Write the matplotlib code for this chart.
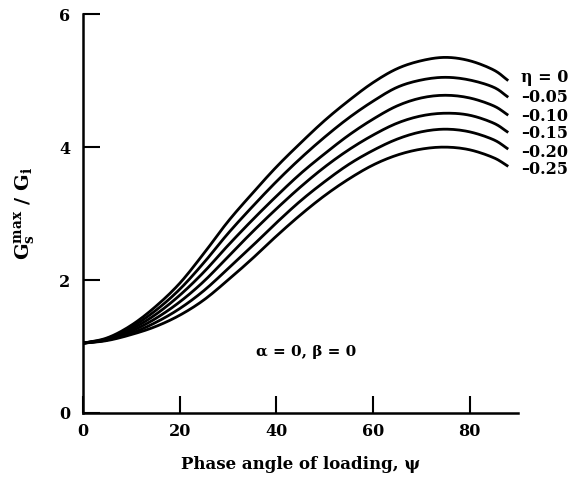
import matplotlib
matplotlib.use("Agg")
import matplotlib.pyplot as plt
import numpy as np

psi = [0, 5, 10, 15, 20, 25, 30, 35, 40, 45, 50, 55, 60, 65, 70, 75, 80, 85, 88]
g_eta_0 = [1.05, 1.13, 1.32, 1.60, 1.95, 2.40, 2.88, 3.30, 3.70, 4.06, 4.40, 4.70, 4.97, 5.18, 5.30, 5.35, 5.30, 5.16, 5.00]
g_eta_005 = [1.05, 1.12, 1.29, 1.54, 1.86, 2.26, 2.70, 3.10, 3.48, 3.83, 4.15, 4.44, 4.69, 4.90, 5.01, 5.05, 5.01, 4.90, 4.75]
g_eta_010 = [1.05, 1.11, 1.26, 1.48, 1.77, 2.12, 2.52, 2.90, 3.26, 3.60, 3.90, 4.18, 4.42, 4.62, 4.74, 4.78, 4.74, 4.62, 4.48]
g_eta_015 = [1.05, 1.10, 1.23, 1.42, 1.67, 1.98, 2.35, 2.72, 3.07, 3.40, 3.70, 3.96, 4.18, 4.36, 4.47, 4.51, 4.48, 4.36, 4.22]
g_eta_020 = [1.05, 1.10, 1.20, 1.36, 1.57, 1.84, 2.17, 2.51, 2.86, 3.19, 3.48, 3.74, 3.95, 4.12, 4.23, 4.27, 4.23, 4.11, 3.97]
g_eta_025 = [1.05, 1.09, 1.18, 1.30, 1.47, 1.70, 2.00, 2.32, 2.66, 2.98, 3.27, 3.52, 3.73, 3.88, 3.97, 4.00, 3.96, 3.84, 3.71]
series = [g_eta_0, g_eta_005, g_eta_010, g_eta_015, g_eta_020, g_eta_025]
labels = ["η = 0", "–0.05", "–0.10", "–0.15", "–0.20", "–0.25"]
label_y = [5.05, 4.74, 4.46, 4.20, 3.92, 3.66]
xticks = [0, 20, 40, 60, 80]
yticks = [0, 2, 4, 6]


def smooth(x, y, n=12):
    """Catmull-Rom curve through the read points (for drawing only)."""
    x = np.asarray(x, float)
    y = np.asarray(y, float)
    P = np.column_stack([x, y])
    P = np.vstack([2 * P[0] - P[1], P, 2 * P[-1] - P[-2]])
    out = []
    t = np.linspace(0, 1, n, endpoint=False)[:, None]
    for i in range(1, len(P) - 2):
        p0, p1, p2, p3 = P[i - 1], P[i], P[i + 1], P[i + 2]
        seg = 0.5 * ((2 * p1) + (-p0 + p2) * t + (2 * p0 - 5 * p1 + 4 * p2 - p3) * t ** 2
                     + (-p0 + 3 * p1 - 3 * p2 + p3) * t ** 3)
        out.append(seg)
    out.append(P[-2][None, :])
    out = np.vstack(out)
    return out[:, 0], out[:, 1]


plt.rcParams['font.family'] = ['DejaVu Serif']
plt.rcParams['font.weight'] = 'bold'
plt.rcParams['mathtext.fontset'] = 'custom'
plt.rcParams['mathtext.rm'] = 'DejaVu Serif:bold'
plt.rcParams['mathtext.it'] = 'DejaVu Serif:bold'
plt.rcParams['mathtext.bf'] = 'DejaVu Serif:bold'

fig = plt.figure(figsize=(5.7, 4.84), dpi=100)
ax = fig.add_axes([0.1456, 0.1467, 0.763, 0.824])

for ys in series:
    sx, sy = smooth(psi, ys)
    ax.plot(sx, sy, color='black', lw=2.0, solid_capstyle='butt')

for lab, ly in zip(labels, label_y):
    ax.text(90.6, ly, lab, fontsize=11.5, fontweight='bold', va='center', ha='left',
            clip_on=False)

ax.text(46.2, 0.92, "α = 0, β = 0", fontsize=11, fontweight='bold', ha='center', va='center')

ax.set_xlim(0, 90)
ax.set_ylim(0, 6)
ax.set_xticks(xticks)
ax.set_yticks(yticks)
ax.spines['top'].set_visible(False)
ax.spines['right'].set_visible(False)
ax.spines['left'].set_linewidth(1.8)
ax.spines['bottom'].set_linewidth(1.8)
ax.tick_params(direction='in', length=12, width=1.5, labelsize=11.5)
ax.tick_params(axis='y', pad=9)
ax.tick_params(axis='x', pad=7)
for t in ax.get_xticklabels() + ax.get_yticklabels():
    t.set_fontweight('bold')

ax.set_xlabel("Phase angle of loading, ψ", fontsize=12, fontweight='bold', labelpad=12)
ax.set_ylabel(r"$\mathrm{G_s^{max}\ /\ G_i}$", fontsize=14, labelpad=16)

fig.savefig("out.png", dpi=100)
